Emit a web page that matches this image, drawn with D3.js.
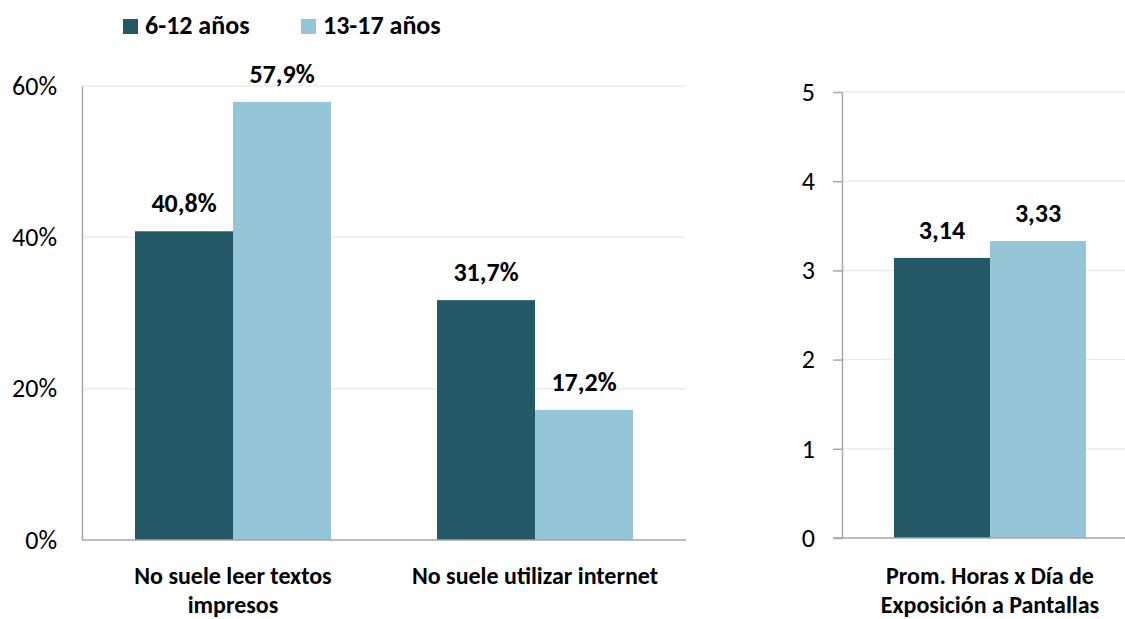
<!DOCTYPE html>
<html>
<head>
<meta charset="utf-8">
<script src="https://cdn.jsdelivr.net/npm/d3@7"></script>
<style>
  html, body { margin: 0; padding: 0; background: #fff; }
  svg { display: block; }
  text { font-family: Carlito, Calibri, Lato, sans-serif; fill: #000; }
</style>
</head>
<body>
<svg id="chart" width="1125" height="619"></svg>
<script>
// ---- data ----
const seriesNames = ["6-12 años", "13-17 años"];
const seriesColors = ["#235967", "#94c6d8"];

const leftCategories = [["No suele leer textos", "impresos"], ["No suele utilizar internet"]];
const leftValues612 = [40.8, 31.7];
const leftValues1317 = [57.9, 17.2];
const leftTicks = [0, 20, 40, 60];
const leftTickLabels = ["0%", "20%", "40%", "60%"];

const rightCategories = [["Prom. Horas x Día de", "Exposición a Pantallas"]];
const rightValues612 = [3.14];
const rightValues1317 = [3.33];
const rightTicks = [0, 1, 2, 3, 4, 5];
const rightTickLabels = ["0", "1", "2", "3", "4", "5"];

const fmt = (v, d) => v.toFixed(d).replace(".", ",");

const svg = d3.select("#chart");
const axisColor = "#a6a6a6";
const gridColor = "#ececec";
const FS = 26;
const CAT_FS = 24;
const CAT_LH = 29;

function drawPanel(opts) {
  const g = svg.append("g");
  const y = d3.scaleLinear().domain(opts.yDomain).range([opts.y0, opts.y1]);
  const keys = opts.categories.map((c, i) => i);
  const x = d3.scaleBand().domain(keys).range([opts.x0, opts.x1])
    .paddingInner(0.351).paddingOuter(0.1755);
  const xs = d3.scaleBand().domain([0, 1]).range([0, x.bandwidth()]);

  // gridlines
  g.selectAll(".grid").data(opts.ticks.filter(t => t !== 0)).enter().append("line")
    .attr("x1", opts.x0).attr("x2", opts.gridEnd)
    .attr("y1", d => y(d)).attr("y2", d => y(d))
    .attr("stroke", gridColor).attr("stroke-width", 1.5);

  // bars
  const series = [opts.v1, opts.v2];
  series.forEach((vals, si) => {
    g.selectAll(".bar" + si).data(vals).enter().append("rect")
      .attr("x", (d, i) => x(i) + xs(si))
      .attr("width", xs.bandwidth())
      .attr("y", d => y(d))
      .attr("height", d => y(0) - y(d))
      .attr("fill", seriesColors[si]);
    g.selectAll(".lab" + si).data(vals).enter().append("text")
      .attr("x", (d, i) => x(i) + xs(si) + xs.bandwidth() / 2)
      .attr("y", d => y(d) - 19)
      .attr("text-anchor", "middle")
      .attr("font-weight", "bold")
      .attr("font-size", FS)
      .text(d => opts.labelFmt(d));
  });

  // y axis
  const yAxis = d3.axisLeft(y).tickValues(opts.ticks)
    .tickFormat((d, i) => opts.tickLabels[i])
    .tickSizeInner(opts.tickSize).tickSizeOuter(0).tickPadding(opts.tickPad);
  const ya = g.append("g").attr("transform", `translate(${opts.x0},0)`).call(yAxis);
  ya.select(".domain").attr("stroke", axisColor).attr("stroke-width", 1.5);
  ya.selectAll(".tick line").attr("stroke", axisColor).attr("stroke-width", 1.5);
  ya.selectAll(".tick text").attr("font-size", FS)
    .style("font-family", "Carlito, Calibri, Lato, sans-serif").attr("fill", "#000");

  // baseline
  g.append("line").attr("x1", opts.x0 - opts.tickSize).attr("x2", opts.gridEnd)
    .attr("y1", y(0)).attr("y2", y(0))
    .attr("stroke", axisColor).attr("stroke-width", 1.5);

  // category labels (one text element per line)
  opts.categories.forEach((lines, i) => {
    lines.forEach((ln, j) => {
      g.append("text")
        .attr("x", x(i) + x.bandwidth() / 2)
        .attr("y", opts.catY + j * CAT_LH)
        .attr("text-anchor", "middle")
        .attr("font-weight", "bold")
        .attr("font-size", CAT_FS)
        .text(ln);
    });
  });
}

drawPanel({
  categories: leftCategories, v1: leftValues612, v2: leftValues1317,
  yDomain: [0, 60], y0: 540, y1: 86, x0: 82, x1: 686, gridEnd: 686,
  ticks: leftTicks, tickLabels: leftTickLabels, tickSize: 0, tickPad: 25,
  labelFmt: d => fmt(d, 1) + "%", catY: 584
});

drawPanel({
  categories: rightCategories, v1: rightValues612, v2: rightValues1317,
  yDomain: [0, 5], y0: 538, y1: 92, x0: 842, x1: 1138, gridEnd: 1125,
  ticks: rightTicks, tickLabels: rightTickLabels, tickSize: 9, tickPad: 18,
  labelFmt: d => fmt(d, 2), catY: 584
});

// legend
const legend = svg.append("g");
const legX = [123, 301];
seriesNames.forEach((name, i) => {
  legend.append("rect").attr("x", legX[i]).attr("y", 19).attr("width", 15).attr("height", 15)
    .attr("fill", seriesColors[i]);
  legend.append("text").attr("x", legX[i] + 22).attr("y", 34)
    .attr("font-weight", "bold").attr("font-size", FS).text(name);
});
</script>
</body>
</html>
